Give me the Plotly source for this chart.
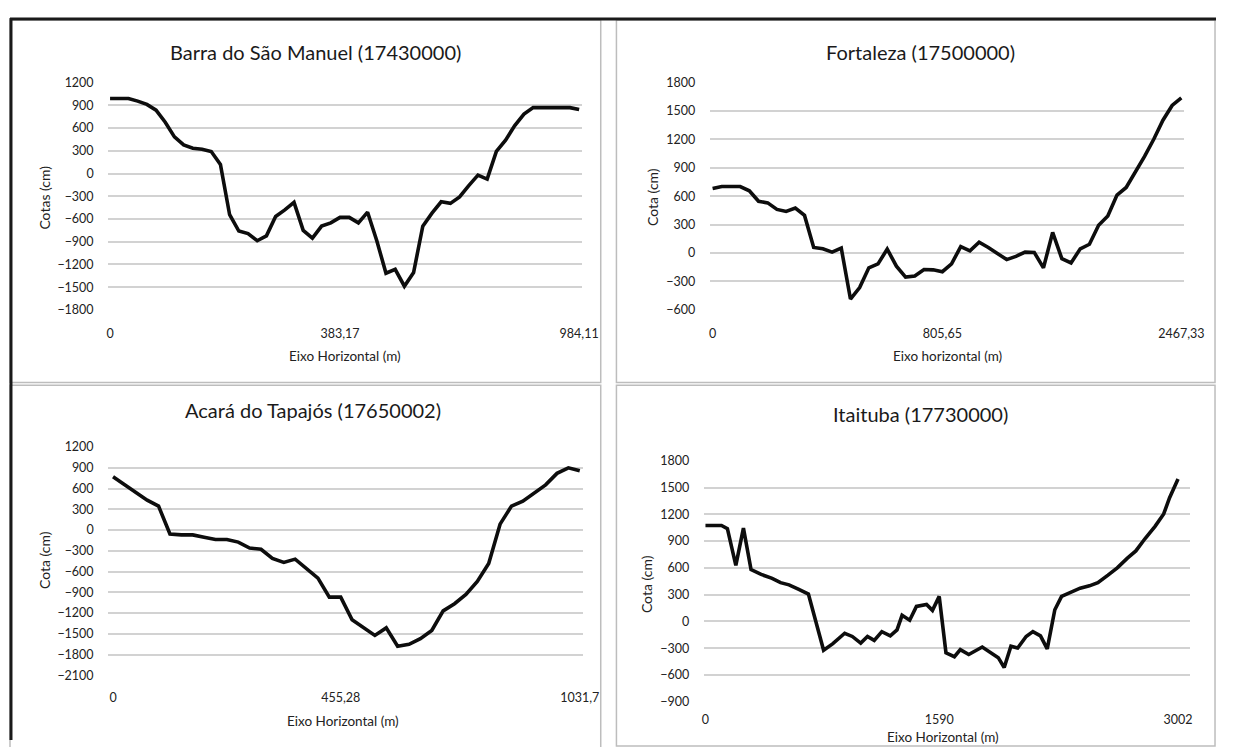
import plotly.graph_objects as go

# page body keeps its default 8px margin, so the figure is drawn 16px smaller
# and every reference pixel position is shifted by that margin
OFF = 8
W, H = 1245 - 2 * OFF, 755 - 2 * OFF

# --- data (station index -> cota in cm) ---
barra_st = list(range(52))
barra_cota = [990, 990, 990, 956, 913, 836, 677, 484, 377, 334, 321, 291, 120, -544,
              -759, -793, -887, -823, -566, -480, -381, -750, -853, -694, -651, -579,
              -579, -651, -510, -887, -1316, -1264, -1487, -1307, -694, -523, -373,
              -394, -309, -159, -21, -73, 291, 441, 634, 784, 870, 870, 870, 870, 870, 844]
barra_ticks = [0, 25, 51]
barra_labels = ["0", "383,17", "984,11"]

fort_st = list(range(52))
fort_cota = [683, 703, 703, 703, 658, 547, 530, 461, 440, 475, 398, 59, 45, 10, 52,
             -485, -364, -156, -114, 42, -138, -253, -242, -173, -177, -197, -114, 69,
             24, 114, 59, -10, -69, -35, 10, 7, -156, 218, -59, -104, 45, 93, 294, 391,
             613, 693, 849, 1022, 1202, 1403, 1559, 1639]
fort_ticks = [0, 25, 51]
fort_labels = ["0", "805,65", "2467,33"]

acara_st = list(range(42))
acara_cota = [772, 654, 536, 432, 346, -57, -70, -70, -103, -136, -136, -174, -259, -278,
              -411, -468, -420, -553, -695, -969, -969, -1298, -1404, -1523, -1414, -1679,
              -1651, -1570, -1452, -1168, -1064, -931, -742, -482, 86, 346, 417, 536, 654,
              820, 900, 857]
acara_ticks = [0, 20, 41]
acara_labels = ["0", "455,28", "1031,7"]

ita_st = [0, 1.9, 2.6, 3.6, 4.5, 5.4, 6.6, 7.9, 8.9, 9.9, 11.0, 12.2, 14.0, 15.1, 16.5,
          17.4, 18.4, 19.2, 20.0, 20.9, 21.9, 22.7, 23.3, 24.2, 25.0, 26.2, 26.9, 27.7,
          28.5, 29.5, 30.2, 31.2, 32.8, 33.9, 34.7, 35.4, 36.2, 37.0, 38.0, 38.8, 39.7,
          40.5, 41.4, 42.2, 43.4, 44.4, 45.5, 46.5, 47.7, 48.8, 50.0, 51.0, 52.1, 53.3,
          54.3, 55.0, 56.0]
ita_cota = [1075, 1075, 1039, 629, 1046, 582, 527, 483, 435, 410, 362, 307, -322, -249,
            -132, -168, -242, -168, -212, -114, -161, -95, 69, 14, 168, 190, 124, 281,
            -351, -395, -315, -370, -286, -359, -406, -516, -278, -297, -168, -114, -161,
            -308, 131, 281, 336, 373, 399, 435, 519, 600, 710, 790, 929, 1068, 1204, 1387,
            1595]
ita_ticks = [0, 27.7, 56]
ita_labels = ["0", "1590", "3002"]

FONT = "Lato"
TXT = "#222222"

fig = go.Figure()


def px_x(v):
    return (v - OFF) / W


def px_y(v):
    return 1 - (v - OFF) / H


panels = [
    dict(st=barra_st, y=barra_cota, ticks=barra_ticks, labels=barra_labels,
         title="Barra do São Manuel (17430000)", ytitle="Cotas (cm)", xtitle="Eixo Horizontal (m)",
         box=(108, 591, 76, 308), xr=[-0.21, 51.32], yr=[-1800, 1200], xtl=12,
         tpos=(319, 45), ypos=(43, 193), xpos=(349, 355)),
    dict(st=fort_st, y=fort_cota, ticks=fort_ticks, labels=fort_labels,
         title="Fortaleza (17500000)", ytitle="Cota (cm)", xtitle="Eixo horizontal (m)",
         box=(721, 1204, 76, 308), xr=[-0.32, 51.25], yr=[-600, 1800], xtl=12,
         tpos=(936, 45), ypos=(662, 193), xpos=(963, 355)),
    dict(st=acara_st, y=acara_cota, ticks=acara_ticks, labels=acara_labels,
         title="Acará do Tapajós (17650002)", ytitle="Cota (cm)", xtitle="Eixo Horizontal (m)",
         box=(108, 592, 448, 681), xr=[-0.43, 41.29], yr=[-2100, 1200], xtl=11,
         tpos=(317, 410), ypos=(43, 563), xpos=(347, 728)),
    dict(st=ita_st, y=ita_cota, ticks=ita_ticks, labels=ita_labels,
         title="Itaituba (17730000)", ytitle="Cota (cm)", xtitle="Eixo Horizontal (m)",
         box=(715, 1210, 462, 708), xr=[-0.2, 57.36], yr=[-900, 1800], xtl=6,
         tpos=(936, 414), ypos=(656, 588), xpos=(959, 744)),
]


def label(x, y, text, size, color=TXT, angle=0):
    fig.add_annotation(x=px_x(x), y=px_y(y), xref="paper", yref="paper", text=text,
                       xanchor="center", yanchor="middle", textangle=angle, showarrow=False,
                       font=dict(family=FONT, size=size, color=color))


layout_axes = {}
for i, p in enumerate(panels, start=1):
    xa = "x" if i == 1 else f"x{i}"
    ya = "y" if i == 1 else f"y{i}"
    fig.add_trace(go.Scatter(x=p["st"], y=p["y"], mode="lines", xaxis=xa, yaxis=ya,
                             line=dict(color="#0d0d0d", width=3.6), showlegend=False,
                             hoverinfo="skip"))
    x0, x1, y0, y1 = p["box"]
    layout_axes["xaxis" if i == 1 else f"xaxis{i}"] = dict(
        domain=[px_x(x0), px_x(x1)], range=p["xr"], anchor=ya, showgrid=False,
        zeroline=False, showline=False, tickmode="array", tickvals=p["ticks"],
        ticktext=p["labels"], ticks="outside", ticklen=p["xtl"], tickcolor="rgba(0,0,0,0)",
        tickfont=dict(family=FONT, size=12.5, color=TXT))
    layout_axes["yaxis" if i == 1 else f"yaxis{i}"] = dict(
        domain=[px_y(y1), px_y(y0)], range=p["yr"], anchor=xa, dtick=300,
        showgrid=True, gridcolor="#d2d2d2", gridwidth=1.7, zeroline=False,
        showline=False, ticks="outside", ticklen=11, tickcolor="rgba(0,0,0,0)",
        tickfont=dict(family=FONT, size=12.5, color=TXT))
    label(*p["tpos"], p["title"], 20, color="#1a1a1a")
    label(*p["ypos"], p["ytitle"], 14, angle=-90)
    label(*p["xpos"], p["xtitle"], 13.5)

# chart-area frames and the dark outer frame of the image
for (a, b, c, d) in [(8, 12, 610, 382), (626, 12, 1236, 382), (8, 385, 610, 755), (626, 385, 1236, 753)]:
    fig.add_shape(type="rect", xref="paper", yref="paper", x0=px_x(a), x1=px_x(c),
                  y0=px_y(b), y1=px_y(d), line=dict(color="#bdbdbd", width=1.5))
fig.add_shape(type="line", xref="paper", yref="paper", x0=0, x1=1, y0=px_y(11), y1=px_y(11),
              line=dict(color="#1a1a1a", width=3))
fig.add_shape(type="line", xref="paper", yref="paper", x0=px_x(9), x1=px_x(9), y0=px_y(10), y1=0,
              line=dict(color="#1a1a1a", width=3))

fig.update_layout(width=W, height=H, margin=dict(l=0, r=0, t=0, b=0),
                  paper_bgcolor="white", plot_bgcolor="white", showlegend=False,
                  **layout_axes)

fig.write_html("out.html")
